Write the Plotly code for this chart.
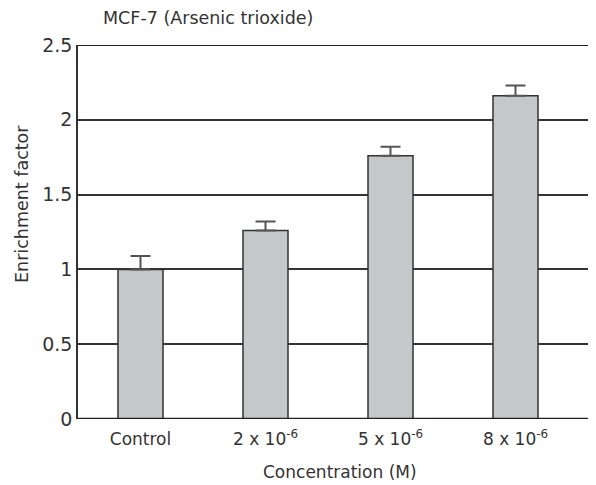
import plotly.graph_objects as go

categories = ["Control", "2 x 10<sup>-6</sup>", "5 x 10<sup>-6</sup>", "8 x 10<sup>-6</sup>"]
values = [1.0, 1.26, 1.76, 2.16]
errors = [0.09, 0.06, 0.06, 0.07]
y_ticks = [0, 0.5, 1, 1.5, 2, 2.5]
y_tick_labels = ["0", "0.5", "1", "1.5", "2", "2.5"]

FONT = "DejaVu Sans"
TXT = "#333333"

# page body has an 8px default margin, so the figure is 8px smaller
W, H = 588, 477
ML, MT, MB = 70, 37, 66
PLOT_W = W - ML
PLOT_H = H - MT - MB

fig = go.Figure()
fig.add_trace(go.Bar(
    x=list(range(len(categories))),
    y=values,
    width=0.36,
    marker=dict(color="#c6c7c9", line=dict(color="#333333", width=1.5)),
    error_y=dict(type="data", symmetric=False, array=errors,
                 arrayminus=[0] * len(errors),
                 color="#555555", thickness=2, width=10),
))

fig.update_layout(
    width=W, height=H,
    margin=dict(l=ML, r=0, t=MT, b=MB, pad=0),
    paper_bgcolor="white", plot_bgcolor="white",
    showlegend=False,
    font=dict(family=FONT, color=TXT, size=15),
    title=dict(text="MCF-7 (Arsenic trioxide)", x=95 / W, xanchor="left",
               y=1 - 10 / H, yanchor="middle",
               font=dict(family=FONT, size=17.5, color=TXT)),
    xaxis=dict(
        range=[-0.5, 3.644], automargin=False,
        tickmode="array", tickvals=list(range(len(categories))), ticktext=categories,
        showgrid=False, zeroline=False, showline=False, ticks="",
        tickfont=dict(size=17), ticklabelstandoff=8,
    ),
    yaxis=dict(
        range=[0, 2.5], automargin=False,
        tickmode="array", tickvals=y_ticks, ticktext=y_tick_labels,
        showgrid=True, gridcolor="#333333", gridwidth=1.5,
        zeroline=False, showline=True, linecolor="#333333", linewidth=1.5,
        ticks="", tickfont=dict(size=19), ticklen=0,
    ),
    annotations=[
        dict(text="Enrichment factor", textangle=-90, showarrow=False,
             xref="paper", yref="paper", x=(22 - 78) / PLOT_W, y=(419 - 204) / PLOT_H,
             xanchor="center", yanchor="middle", font=dict(size=17.5, color=TXT)),
        dict(text="Concentration (M)", showarrow=False,
             xref="paper", yref="paper", x=(340 - 78) / PLOT_W, y=(419 - 472) / PLOT_H,
             xanchor="center", yanchor="middle", font=dict(size=17, color=TXT)),
    ],
)

# bottom axis line and top 2.5 line
fig.add_shape(type="line", xref="paper", yref="y", x0=0, x1=1, y0=0, y1=0,
              line=dict(color="#222222", width=2.5), layer="above")
fig.add_shape(type="line", xref="paper", yref="y", x0=0, x1=1, y0=2.5, y1=2.5,
              line=dict(color="#222222", width=2), layer="above")

fig.write_html("out.html")
